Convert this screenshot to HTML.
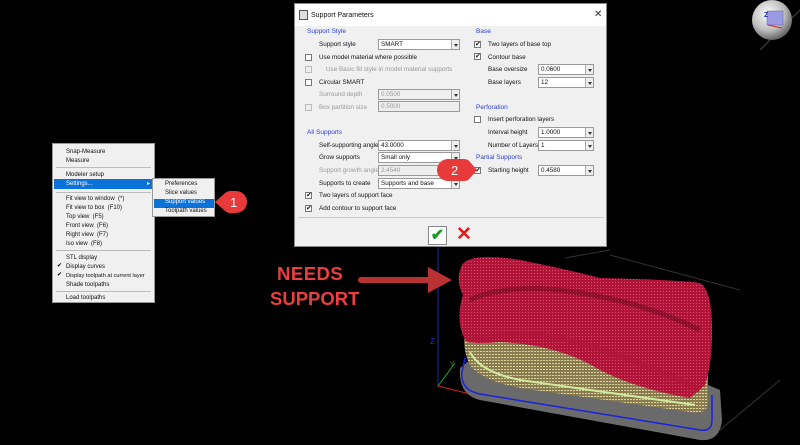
<!DOCTYPE html>
<html><head><meta charset="utf-8"><style>
*{margin:0;padding:0;box-sizing:border-box}
body{width:800px;height:445px;background:#000;position:relative;overflow:hidden;font-family:"Liberation Sans",sans-serif}
.a{position:absolute;white-space:nowrap}
.t{font-size:6.3px;color:#111;line-height:9px}
.g{color:#999}
.h{font-size:6.5px;color:#2a3ee0;line-height:9px}
.cb{position:absolute;width:7px;height:7px;border:1px solid #777;background:#fff;font-size:7px;line-height:5px;text-align:center;color:#222}
.cb.d{border-color:#bbb;background:#eee}
.co{position:absolute;height:11px;border:1px solid #9a9a9a;background:#fff;font-size:6.3px;line-height:9px;padding-left:2px;color:#111}
.co.d{background:#eee;color:#999}
.co i{position:absolute;right:0;top:0;width:8px;height:9px;border-left:1px solid #aaa;background:#eee}
.co i:after{content:"";position:absolute;left:2px;top:4px;border:2px solid transparent;border-top:3px solid #333}
.m{font-size:6px;color:#111;line-height:9px;position:absolute;left:13px}
.sep{position:absolute;left:3px;right:3px;height:1px;background:#bbb}
</style></head><body>

<svg class="a" style="left:0;top:0" width="800" height="445">
 <defs>
  <radialGradient id="rg" cx=".4" cy=".35" r=".7"><stop offset="0" stop-color="#fff"/><stop offset=".6" stop-color="#bbb"/><stop offset="1" stop-color="#555"/></radialGradient>
  <pattern id="mesh" width="3" height="3" patternUnits="userSpaceOnUse"><rect width="3" height="3" fill="#b01438"/><rect width="1" height="1" fill="#e0506e"/></pattern>
  <pattern id="ymesh" width="3" height="3" patternUnits="userSpaceOnUse"><rect width="3" height="3" fill="#8a7a50"/><rect width="2" height="1" fill="#d8d49a"/></pattern>
 </defs>
 <line x1="438" y1="240" x2="438" y2="386" stroke="#1a2ab0" stroke-width="1"/>
 <line x1="565" y1="258" x2="610" y2="250" stroke="#333" stroke-width="1"/>
 <line x1="610" y1="255" x2="740" y2="290" stroke="#333" stroke-width="1"/>
 <line x1="720" y1="430" x2="780" y2="380" stroke="#333" stroke-width="1"/>
 <line x1="760" y1="50" x2="800" y2="10" stroke="#444" stroke-width="1"/>
 <line x1="438" y1="386" x2="482" y2="397" stroke="#c22" stroke-width="1"/>
 <line x1="438" y1="386" x2="455" y2="363" stroke="#2a2" stroke-width="1"/>
 <text x="430" y="344" font-size="8" fill="#2233cc" font-family="Liberation Sans">Z</text>
 <text x="450" y="366" font-size="6" fill="#2a2" font-family="Liberation Sans">Y</text>
 <text x="480" y="400" font-size="6" fill="#c22" font-family="Liberation Sans">X</text>
 <path d="M460,368 Q458,395 480,400 L700,440 Q720,442 722,420 L720,390 L708,385 L470,360 Z" fill="#6a6a6a"/>
 <path d="M462,372 Q460,390 480,394 L700,430 Q712,432 712,420 L712,395" fill="none" stroke="#1a22dd" stroke-width="1.5"/>
 <path d="M462,372 L465,358" stroke="#1a22dd" stroke-width="1.5"/>
 <path d="M465,330 Q462,350 470,365 Q480,380 520,388 L690,412 Q708,415 708,402 L708,370 L600,345 Z" fill="url(#ymesh)"/>
 <path d="M470,352 Q480,372 520,380 L695,405" fill="none" stroke="#cfe9a0" stroke-width="2"/>
 <path d="M462,265 Q470,252 520,260 Q570,270 600,278 Q680,280 700,283 Q712,290 712,330 Q712,365 705,385 L690,398 Q640,390 600,370 Q560,345 500,342 Q470,345 465,340 Q455,320 463,295 Q455,280 462,265 Z" fill="url(#mesh)"/>
 <path d="M470,300 Q500,285 560,290 Q640,300 700,330" fill="none" stroke="#6a0a20" stroke-width="5" opacity=".5"/>
 <path d="M468,340 Q520,330 570,340 Q640,360 700,390" fill="none" stroke="#b01438" stroke-width="6" opacity=".6"/>
 <circle cx="772" cy="20" r="20" fill="url(#rg)"/>
 <rect x="767" y="11" width="16" height="14" fill="#9a9ae0" stroke="#6060b0" stroke-width=".5"/>
 <text x="764" y="17" font-size="7" fill="#2233cc" font-weight="bold" font-family="Liberation Sans">Z</text>
 <line x1="768" y1="25" x2="782" y2="28" stroke="#d22" stroke-width="1"/>
 <line x1="361" y1="280" x2="436" y2="280" stroke="#b83232" stroke-width="6" stroke-linecap="round"/>
 <polygon points="428,267 452,280 428,293" fill="#b83232"/>
</svg>

<div class="a" style="left:277px;top:263px;font-size:18.5px;font-weight:bold;color:#ec3e3e;letter-spacing:0.5px">NEEDS</div>
<div class="a" style="left:270px;top:288px;font-size:18.5px;font-weight:bold;color:#ec3e3e">SUPPORT</div>

<div class="a" style="left:294px;top:3px;width:313px;height:244px;background:#f0f0f0;border:1px solid #888">
 <div class="a" style="left:0;top:0;width:311px;height:22px;background:#fff"></div>
 <div class="a" style="left:4px;top:6px;width:9px;height:10px;border:1px solid #555;background:#ddd"></div>
 <div class="a t" style="left:16px;top:7px;font-size:7px">Support Parameters</div>
 <div class="a" style="left:299px;top:5px;font-size:10px;color:#333">✕</div>
 <div class="a" style="left:3px;top:213px;width:306px;height:1px;background:#ccc"></div>
 <div class="a" style="left:133px;top:222px;width:19px;height:19px;border:1px solid #888;background:#fff;font-size:16px;line-height:18px;text-align:center;color:#1a9a2a;font-weight:bold">✔</div>
 <div class="a" style="left:161px;top:219px;font-size:19px;color:#e21b1b;font-weight:bold">✕</div>
</div>

<div class="a h" style="left:307px;top:27px">Support Style</div>
<div class="a t" style="left:319px;top:40px">Support style</div>
<div class="co" style="left:378px;top:39px;width:82px">SMART<i></i></div>
<div class="cb" style="left:305px;top:54px"></div><div class="a t" style="left:319px;top:53px">Use model material where possible</div>
<div class="cb d" style="left:305px;top:66px"></div><div class="a t g" style="left:326px;top:65px">Use Basic fill style in model material supports</div>
<div class="cb" style="left:305px;top:79px"></div><div class="a t" style="left:319px;top:78px">Circular SMART</div>
<div class="a t g" style="left:319px;top:90px">Surround depth</div>
<div class="co d" style="left:378px;top:89px;width:82px">0.0500<i></i></div>
<div class="cb d" style="left:305px;top:104px"></div><div class="a t g" style="left:319px;top:103px">Box partition size</div>
<div class="co d" style="left:378px;top:101px;width:82px">0.5000</div>

<div class="a h" style="left:307px;top:128px">All Supports</div>
<div class="a t" style="left:319px;top:141px">Self-supporting angle</div>
<div class="co" style="left:378px;top:140px;width:82px">43.0000<i></i></div>
<div class="a t" style="left:319px;top:153px">Grow supports</div>
<div class="co" style="left:378px;top:152px;width:82px">Small only<i></i></div>
<div class="a t g" style="left:319px;top:166px">Support growth angle</div>
<div class="co d" style="left:378px;top:165px;width:82px">2.4540</div>
<div class="a t" style="left:319px;top:179px">Supports to create</div>
<div class="co" style="left:378px;top:178px;width:82px">Supports and base<i></i></div>
<div class="cb" style="left:305px;top:192px">✔</div><div class="a t" style="left:319px;top:191px">Two layers of support face</div>
<div class="cb" style="left:305px;top:205px">✔</div><div class="a t" style="left:319px;top:204px">Add contour to support face</div>

<div class="a h" style="left:476px;top:27px">Base</div>
<div class="cb" style="left:474px;top:41px">✔</div><div class="a t" style="left:488px;top:40px">Two layers of base top</div>
<div class="cb" style="left:474px;top:53px">✔</div><div class="a t" style="left:488px;top:53px">Contour base</div>
<div class="a t" style="left:488px;top:65px">Base oversize</div>
<div class="co" style="left:538px;top:64px;width:56px">0.0600<i></i></div>
<div class="a t" style="left:488px;top:78px">Base layers</div>
<div class="co" style="left:538px;top:77px;width:56px">12<i></i></div>
<div class="a h" style="left:476px;top:103px">Perforation</div>
<div class="cb" style="left:474px;top:116px"></div><div class="a t" style="left:488px;top:115px">Insert perforation layers</div>
<div class="a t" style="left:488px;top:128px">Interval height</div>
<div class="co" style="left:538px;top:127px;width:56px">1.0000<i></i></div>
<div class="a t" style="left:488px;top:141px">Number of Layers</div>
<div class="co" style="left:538px;top:140px;width:56px">1<i></i></div>
<div class="a h" style="left:476px;top:153px">Partial Supports</div>
<div class="cb" style="left:474px;top:167px">✔</div><div class="a t" style="left:488px;top:166px">Starting height</div>
<div class="co" style="left:538px;top:165px;width:56px">0.4580<i></i></div>

<svg class="a" style="left:436px;top:158px" width="42" height="24"><path d="M12,1 L28,1 Q32,1 34,4 L41,12 L34,20 Q32,23 28,23 L12,23 A11,11 0 0 1 12,1 Z" fill="#e83a3a"/><text x="15" y="17" font-size="13" fill="#fff" font-family="Liberation Sans">2</text></svg>

<div class="a" style="left:52px;top:143px;width:103px;height:160px;background:#f0f0f0;border:1px solid #999">
 <div class="m" style="top:4px">Snap-Measure</div>
 <div class="m" style="top:13px">Measure</div>
 <div class="sep" style="top:23px"></div>
 <div class="m" style="top:27px">Modeler setup</div>
 <div class="a" style="left:1px;top:35px;width:100px;height:10px;background:#0a72d8"></div>
 <div class="m" style="top:36px;color:#fff">Settings...</div>
 <div class="a" style="left:94px;top:36px;font-size:6px;color:#fff">▸</div>
 <div class="sep" style="top:48px"></div>
 <div class="m" style="top:51px">Fit view to window&nbsp; (*)</div>
 <div class="m" style="top:60px">Fit view to box&nbsp; (F10)</div>
 <div class="m" style="top:69px">Top view&nbsp; (F5)</div>
 <div class="m" style="top:78px">Front view&nbsp; (F6)</div>
 <div class="m" style="top:87px">Right view&nbsp; (F7)</div>
 <div class="m" style="top:96px">Iso view&nbsp; (F8)</div>
 <div class="sep" style="top:106px"></div>
 <div class="m" style="top:110px">STL display</div>
 <div class="a" style="left:4px;top:118px;font-size:6px">✔</div><div class="m" style="top:119px">Display curves</div>
 <div class="a" style="left:4px;top:127px;font-size:6px">✔</div><div class="m" style="top:128px;font-size:5.6px">Display toolpath at current layer</div>
 <div class="m" style="top:137px">Shade toolpaths</div>
 <div class="sep" style="top:147px"></div>
 <div class="m" style="top:150px">Load toolpaths</div>
</div>
<div class="a" style="left:152px;top:178px;width:63px;height:39px;background:#f0f0f0;border:1px solid #999">
 <div class="m" style="left:12px;top:1px">Preferences</div>
 <div class="m" style="left:12px;top:10px">Slice values</div>
 <div class="a" style="left:1px;top:20px;width:60px;height:9px;background:#0a72d8"></div>
 <div class="m" style="left:12px;top:19px;color:#fff">Support values</div>
 <div class="m" style="left:12px;top:28px">Toolpath values</div>
</div>
<svg class="a" style="left:214px;top:190px" width="34" height="24"><path d="M22,1 A11,11 0 0 1 22,23 L16,23 Q13,23 10,20 L1,12 L10,4 Q13,1 16,1 Z" fill="#e83a3a"/><text x="16" y="17" font-size="13" fill="#fff" font-family="Liberation Sans">1</text></svg>
</body></html>
